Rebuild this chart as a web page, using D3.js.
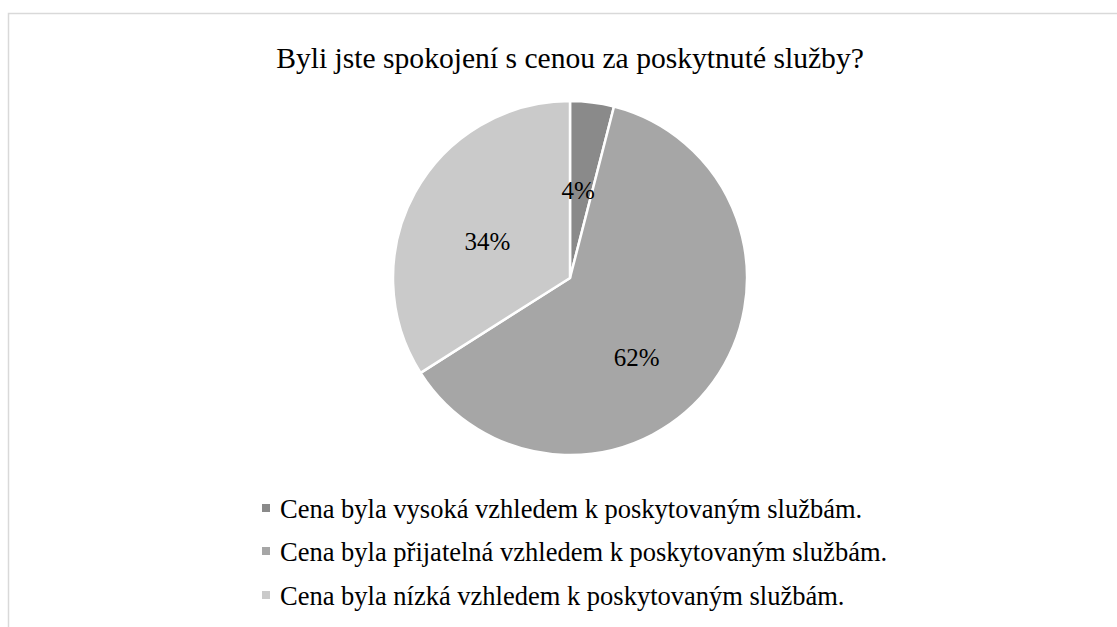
<!DOCTYPE html>
<html lang="cs">
<head>
<meta charset="utf-8">
<script src="https://cdn.jsdelivr.net/npm/d3@7"></script>
<style>
  html, body { margin: 0; padding: 0; background: #ffffff; }
  svg { display: block; }
</style>
</head>
<body>
<svg id="chart" width="1117" height="627"></svg>
<script>
// Survey answers: price satisfaction
const title = "Byli jste spokojení s cenou za poskytnuté služby?";
const categories = [
  "Cena byla vysoká vzhledem k poskytovaným službám.",
  "Cena byla přijatelná vzhledem k poskytovaným službám.",
  "Cena byla nízká vzhledem k poskytovaným službám."
];
const shares = [4, 62, 34];
const colors = ["#8a8a8a", "#a6a6a6", "#cacaca"];

// Layout
const FONT = "'Liberation Serif', 'Times New Roman', Times, 'DejaVu Serif', serif";
const cx = 570, cy = 278, R = 177;
// Label placement tweaks (pixels) on top of the arc centroid
const labelNudge = [[-3, 0], [-5, 27], [-5, 6]];

const svg = d3.select("#chart")
  .attr("font-family", FONT)
  .style("font-family", FONT);

// Chart-area frame
svg.append("rect")
  .attr("x", 8.5).attr("y", 13.5)
  .attr("width", 1130).attr("height", 640)
  .attr("fill", "none")
  .attr("stroke", "#d9d9d9")
  .attr("stroke-width", 1.5);

svg.append("text")
  .attr("x", cx).attr("y", 68)
  .attr("text-anchor", "middle")
  .style("font-family", FONT)
  .style("font-size", "29.6px")
  .attr("fill", "#000")
  .text(title);

const pie = d3.pie().sort(null).value(d => d);
const arcs = pie(shares);
const arc = d3.arc().innerRadius(0).outerRadius(R);
const labelArc = d3.arc().innerRadius(R * 0.5).outerRadius(R * 0.5);

const g = svg.append("g").attr("transform", `translate(${cx},${cy})`);

g.selectAll("path.slice")
  .data(arcs)
  .join("path")
  .attr("class", "slice")
  .attr("d", arc)
  .attr("fill", (d, i) => colors[i])
  .attr("stroke", "#ffffff")
  .attr("stroke-width", 2.5)
  .attr("stroke-linejoin", "round");

g.selectAll("text.pct")
  .data(arcs)
  .join("text")
  .attr("class", "pct")
  .attr("transform", (d, i) => {
    const [x, y] = labelArc.centroid(d);
    return `translate(${x + labelNudge[i][0]},${y + labelNudge[i][1]})`;
  })
  .attr("text-anchor", "middle")
  .attr("dy", "0.35em")
  .style("font-family", FONT)
  .style("font-size", "25px")
  .attr("fill", "#000")
  .text(d => d.data + "%");

// Legend
const legend = svg.append("g").attr("transform", "translate(262,0)");
const rowBase = [518, 561, 605];
const rows = legend.selectAll("g.row")
  .data(categories)
  .join("g")
  .attr("class", "row")
  .attr("transform", (d, i) => `translate(0,${rowBase[i]})`);

rows.append("rect")
  .attr("x", 0).attr("y", -14)
  .attr("width", 8).attr("height", 8)
  .attr("fill", (d, i) => colors[i]);

rows.append("text")
  .attr("x", 18).attr("y", 0)
  .style("font-family", FONT)
  .style("font-size", "26.5px")
  .attr("fill", "#000")
  .text(d => d);
</script>
</body>
</html>
